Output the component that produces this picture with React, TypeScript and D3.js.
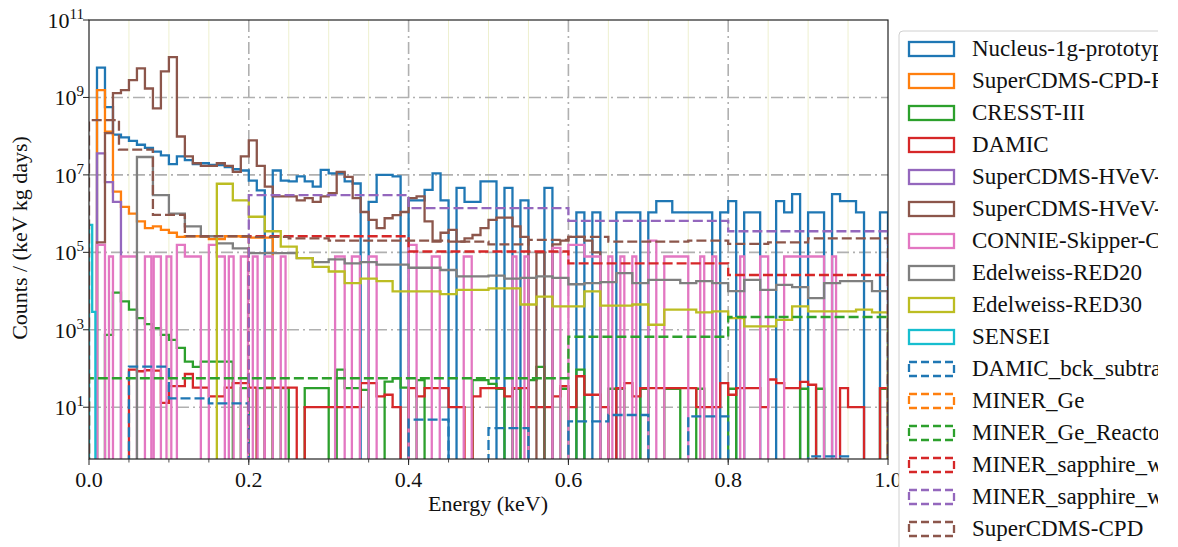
import React from 'react';
import * as d3 from 'd3';

// plot box in page pixels
const W = 1178;
const H = 547;
const PL = 89;
const PR = 888;
const PT = 20;
const PB = 459;

// ---- data: counts per bin, 0 = empty bin ----
// 0.01 keV bins starting at 0
const nucleusValues = [
  0, 5.9e9, 5.6e8, 1.1e8, 9.3e7, 7.6e7, 6.0e7, 5.0e7, 4.0e7, 3.2e7,
  1.9e7, 3.0e7, 2.4e7, 1.9e7, 2.0e7, 1.8e7, 1.8e7, 1.6e7, 1.4e7, 1.3e7,
  7.1e6, 4.0e6, 0, 1.3e7, 7.1e6, 6.8e6, 9.1e6, 6.8e6, 5.0e6, 1.35e7,
  1.1e7, 1.1e7, 6.8e6, 6.0e6, 0, 2.0e6, 1.0e7, 1.0e7, 9.1e6, 0,
  2.2e6, 2.2e6, 4.1e6, 1.1e7, 2.2e6, 0, 4.6e6, 2.0e6, 2.0e6, 6.8e6,
  6.8e6, 0, 4.6e6, 0, 2.2e6, 0, 0, 4.6e6, 0, 0,
  0, 1.07e6, 0, 1.07e6, 0, 0, 1.07e6, 1.07e6, 1.07e6, 0,
  1.07e6, 2.1e6, 2.1e6, 1.07e6, 1.07e6, 1.07e6, 1.07e6, 1.07e6, 0, 1.07e6,
  2.1e6, 0, 1.07e6, 1.07e6, 0, 0, 2.1e6, 1.07e6, 3.2e6, 0,
  1.07e6, 1.07e6, 0, 3.2e6, 2.1e6, 2.1e6, 1.07e6, 0, 0, 1.07e6,
];
const cpdRunValues = [
  0, 1.55e9, 1.3e8, 3.7e6, 1.5e6, 1.0e6, 6.3e5, 4.2e5, 4.7e5, 3.8e5,
  3.2e5, 2.5e5, 2.6e5, 2.6e5, 2.5e5, 2.2e5, 2.2e5, 2.6e5, 2.6e5, 2.5e5,
  2.4e5, 2.4e5, 2.4e5,
];
const cresstValues = [
  0, 0, 740, 9100, 5400, 3300, 2000, 1400, 1100, 740,
  550, 340, 150, 110, 150, 150, 150, 150, 0, 31,
  0, 31, 31, 0, 31, 0, 0, 31, 31, 31,
  0, 93, 31, 31, 28, 0, 0, 46, 56, 32,
  0, 50, 0, 0, 0, 0, 0, 0, 50, 50,
  40, 30, 0, 30, 0, 50, 110, 0, 0, 30,
  0, 93, 0, 0, 0, 30, 30, 0, 0, 30,
  0, 0, 30, 30, 0, 0, 30, 0, 0, 0,
  30, 0, 0, 0, 0, 0, 0, 0, 0, 30,
  0, 30, 0, 0, 0, 0, 0, 0, 0, 30,
];
const damicValues = [
  0, 0, 0, 0, 0, 93, 85, 90, 88, 13,
  35, 35, 72, 32, 32, 19, 19, 32, 42, 42,
  32, 0, 32, 32, 32, 32, 0, 10, 10, 10,
  10, 10, 10, 10, 42, 42, 19, 21, 10, 0,
  31, 19, 31, 31, 31, 10, 10, 0, 19, 31,
  31, 31, 19, 31, 31, 10, 10, 10, 19, 35,
  10, 63, 21, 21, 10, 0, 31, 42, 19, 31,
  31, 31, 31, 31, 31, 31, 10, 10, 10, 42,
  21, 31, 31, 31, 10, 52, 42, 31, 31, 45,
  38, 0, 0, 0, 31, 10, 10, 0, 0, 31,
];
const hvevPurpleValues = [0, 3.6e7, 6.5e6, 2.0e6];
const hvevBrownValues = [
  0, 1.8e5, 1.2e8, 1.3e9, 1.55e9, 2.8e9, 5.6e9, 1.7e9, 5.2e8, 4.7e9,
  1.1e10, 9.8e7, 3.0e7, 2.0e7, 1.7e7, 1.7e7, 2.0e7, 1.7e7, 1.2e7, 3.0e7,
  7.8e7, 1.7e7, 5.0e6, 2.8e6, 2.8e6, 2.8e6, 2.2e6, 2.5e6, 2.0e6, 2.8e6,
  3.4e6, 1.2e7, 8.9e6, 2.5e6, 1.1e6, 6.9e5, 4.2e5, 7.6e5, 9.1e5, 1.1e6,
  2.5e6, 2.8e6, 6.3e5, 1.9e5, 3.2e5, 3.8e5, 1.9e5, 2.3e5, 2.8e5, 4.2e5,
  6.9e5, 7.9e5, 7.9e5, 4.7e5, 2.5e5, 0, 1.0e5, 0, 1.6e5, 2.0e5,
  2.5e5, 2.5e5, 2.0e5, 1.0e5,
];
// CONNIE: isolated pulses [start keV, end keV, counts]
const connieStart = [0.010, 0.025, 0.040, 0.070, 0.081, 0.097, 0.110, 0.120, 0.150, 0.160, 0.175, 0.190, 0.205, 0.220, 0.240, 0.308, 0.329, 0.350, 0.400, 0.429, 0.469, 0.530, 0.545, 0.580, 0.600, 0.620, 0.650, 0.665, 0.680, 0.700, 0.720, 0.765, 0.780, 0.815, 0.840, 0.870, 0.910, 0.930];
const connieEnd = [0.020, 0.030, 0.060, 0.078, 0.090, 0.103, 0.120, 0.140, 0.160, 0.170, 0.181, 0.199, 0.211, 0.230, 0.246, 0.320, 0.339, 0.360, 0.410, 0.439, 0.479, 0.535, 0.550, 0.590, 0.620, 0.640, 0.655, 0.670, 0.685, 0.710, 0.750, 0.770, 0.785, 0.820, 0.850, 0.910, 0.920, 0.935];
const connieCounts = [1.55e5, 7.8e4, 7.8e4, 7.8e4, 7.8e4, 7.8e4, 1.55e5, 7.8e4, 1.55e5, 7.8e4, 7.8e4, 7.8e4, 7.8e4, 7.8e4, 7.8e4, 7.8e4, 7.8e4, 7.8e4, 1.55e5, 7.8e4, 7.8e4, 7.8e4, 7.8e4, 1.3e5, 1.55e5, 7.8e4, 7.8e4, 7.8e4, 7.8e4, 2.0e5, 7.8e4, 7.8e4, 7.8e4, 7.8e4, 7.8e4, 7.8e4, 7.8e4, 7.8e4];
// Edelweiss: 0.02 keV bins
const red20Values = [
  2.9e7, 3.0e6, 1.0e6, 4.7e5, 2.6e5, 1.7e5, 1.26e5, 9.5e4, 9.5e4, 9.5e4,
  7.1e4, 5.6e4, 6.6e4, 5.2e4, 5.6e4, 4.8e4, 4.8e4, 4.0e4, 4.0e4, 3.5e4,
  2.4e4, 2.4e4, 2.5e4, 2.1e4, 2.2e4, 2.4e4, 2.2e4, 1.5e4, 1.6e4, 1.7e4,
  2.9e4, 1.6e4, 1.95e4, 1.95e4, 1.6e4, 1.8e4, 1.6e4, 1.0e4, 1.95e4, 1.07e4,
  1.45e4, 1.26e4, 6.6e3, 1.6e4, 1.8e4, 1.8e4, 1.0e4,
];
const red30Values = [
  5.9e6, 2.2e6, 8.3e5, 3.5e5, 1.4e5, 7.1e4, 4.2e4, 3.2e4, 1.6e4, 2.1e4,
  1.8e4, 9.8e3, 9.8e3, 9.8e3, 8.3e3, 1.07e4, 1.07e4, 1.17e4, 1.17e4, 4.5e3,
  7.2e3, 4.0e3, 4.0e3, 9.8e3, 4.2e3, 4.2e3, 4.5e3, 1.35e3, 3.3e3, 3.3e3,
  2.8e3, 3.0e3, 2.0e3, 1.23e3, 1.23e3, 1.8e3, 4.0e3, 3.0e3, 3.0e3, 3.0e3,
  3.3e3, 2.8e3,
];
const senseiEdges = [0, 0.004, 0.008];
const senseiValues = [5.1e5, 2.9e3];
// dashed series
const damicBckValues = [0, 112, 17, 12.6, 0, 0, 0, 0, 4.8, 0, 2.9, 0, 4.3, 6.3, 0, 5.8, 0, 0, 0.54, 0];
const minerGeEdges = [1.0, 1.05];
const minerGeValues = [50];
const minerGeReactorEdges = [0, 0.6, 0.8, 1.0];
const minerGeReactorValues = [56, 660, 2140];
const sapphireEdges = [0.2, 0.4, 0.6, 0.8, 1.0];
const sapphireAValues = [2.6e5, 1.05e5, 5.2e4, 2.6e4];
const sapphireBValues = [3.0e6, 1.38e6, 6.5e5, 3.5e5];
const cpdEdges = [0, 0.0375, 0.08, 0.12, 0.15, 0.2, 0.25, 0.3, 0.35, 0.4, 0.45, 0.5, 0.55, 0.6, 0.65, 0.7, 0.75, 0.8, 0.85, 0.9, 0.95, 1.0];
const cpdValues = [2.6e8, 4.5e7, 9.3e5, 2.6e5, 2.6e5, 2.5e5, 2.3e5, 2.0e5, 2.0e5, 2.0e5, 1.9e5, 1.6e5, 2.1e5, 2.5e5, 1.9e5, 1.9e5, 2.0e5, 1.66e5, 1.8e5, 2.3e5, 2.3e5];

const xTicks = [0, 0.2, 0.4, 0.6, 0.8, 1.0];
const xMinor = d3.range(0.05, 1.0, 0.05);
const yTickExps = [1, 3, 5, 7, 9, 11];

// helpers
const binEdges = (start: number, width: number, n: number) =>
  d3.range(n + 1).map((i) => +(start + i * width).toFixed(4));

function pulsesToHist(starts: number[], ends: number[], counts: number[]) {
  const edges: number[] = [];
  const values: number[] = [];
  starts.forEach((s, i) => {
    if (edges.length && Math.abs(edges[edges.length - 1] - s) > 1e-6) {
      values.push(0);
      edges.push(s);
    } else if (!edges.length) edges.push(s);
    values.push(counts[i]);
    edges.push(ends[i]);
  });
  return { edges, values };
}

const connie = pulsesToHist(connieStart, connieEnd, connieCounts);

const tab = {
  blue: '#1f77b4', orange: '#ff7f0e', green: '#2ca02c', red: '#d62728', purple: '#9467bd',
  brown: '#8c564b', pink: '#e377c2', gray: '#7f7f7f', olive: '#bcbd22', cyan: '#17becf',
};

const series = [
  { name: 'Nucleus-1g-prototype', color: tab.blue, dashed: false, edges: binEdges(0, 0.01, nucleusValues.length), values: nucleusValues },
  { name: 'SuperCDMS-CPD-Run1', color: tab.orange, dashed: false, edges: binEdges(0, 0.01, cpdRunValues.length), values: cpdRunValues },
  { name: 'CRESST-III', color: tab.green, dashed: false, edges: binEdges(0, 0.01, cresstValues.length), values: cresstValues },
  { name: 'DAMIC', color: tab.red, dashed: false, edges: binEdges(0, 0.01, damicValues.length), values: damicValues },
  { name: 'SuperCDMS-HVeV-Run1', color: tab.purple, dashed: false, edges: binEdges(0, 0.01, hvevPurpleValues.length), values: hvevPurpleValues },
  { name: 'SuperCDMS-HVeV-Run2', color: tab.brown, dashed: false, edges: binEdges(0, 0.01, hvevBrownValues.length), values: hvevBrownValues },
  { name: 'CONNIE-Skipper-CCD', color: tab.pink, dashed: false, edges: connie.edges, values: connie.values },
  { name: 'Edelweiss-RED20', color: tab.gray, dashed: false, edges: binEdges(0.06, 0.02, red20Values.length), values: red20Values },
  { name: 'Edelweiss-RED30', color: tab.olive, dashed: false, edges: binEdges(0.16, 0.02, red30Values.length), values: red30Values },
  { name: 'SENSEI', color: tab.cyan, dashed: false, edges: senseiEdges, values: senseiValues },
  { name: 'DAMIC_bck_subtracted', color: tab.blue, dashed: true, edges: binEdges(0, 0.05, damicBckValues.length), values: damicBckValues },
  { name: 'MINER_Ge', color: tab.orange, dashed: true, edges: minerGeEdges, values: minerGeValues },
  { name: 'MINER_Ge_Reactor', color: tab.green, dashed: true, edges: minerGeReactorEdges, values: minerGeReactorValues },
  { name: 'MINER_sapphire_w_shield', color: tab.red, dashed: true, edges: sapphireEdges, values: sapphireAValues },
  { name: 'MINER_sapphire_w_Reactor', color: tab.purple, dashed: true, edges: sapphireEdges, values: sapphireBValues },
  { name: 'SuperCDMS-CPD', color: tab.brown, dashed: true, edges: cpdEdges, values: cpdValues },
];

const x = d3.scaleLinear().domain([0, 1]).range([PL, PR]);
const y = d3.scaleLog().domain([0.46, 1e11]).range([PB, PT]);
const FLOOR = 1e-2; // empty bins fall off the bottom

function stepPath(edges: number[], values: number[]) {
  const pts: [number, number][] = [[edges[0], FLOOR]];
  values.forEach((v, i) => {
    const vv = v > 0 ? v : FLOOR;
    pts.push([edges[i], vv]);
    pts.push([edges[i + 1], vv]);
  });
  pts.push([edges[edges.length - 1], FLOOR]);
  return d3.line<[number, number]>().x((d) => x(d[0])).y((d) => y(d[1]))(pts) || '';
}

const FONT = '"Liberation Serif", "DejaVu Serif", serif';
const DASH = '10,4';
const GRID_DASH = '12,4,2,4';

export default function App() {
  return (
    <svg width={W} height={H} style={{ position: 'absolute', left: 0, top: 0, background: '#fff' }} fontFamily={FONT}>
      <defs>
        <clipPath id="plotClip">
          <rect x={PL} y={PT} width={PR - PL} height={PB - PT} />
        </clipPath>
        <clipPath id="legClip">
          <rect x={880} y={0} width={1158 - 880} height={H} />
        </clipPath>
      </defs>
      <rect x={0} y={0} width={W} height={H} fill="#fff" />

      {/* minor vertical grid */}
      {xMinor.filter((v) => Math.abs(v * 5 - Math.round(v * 5)) > 1e-6).map((v) => (
        <line key={'mg' + v} x1={x(v)} x2={x(v)} y1={PT} y2={PB} stroke="#eef0cf" strokeWidth={1} />
      ))}
      {/* major grid */}
      {xTicks.slice(1, -1).map((v) => (
        <line key={'gx' + v} x1={x(v)} x2={x(v)} y1={PT} y2={PB} stroke="#b0b0b0" strokeWidth={1.6} strokeDasharray={GRID_DASH} />
      ))}
      {yTickExps.slice(0, -1).map((e) => (
        <line key={'gy' + e} x1={PL} x2={PR} y1={y(10 ** e)} y2={y(10 ** e)} stroke="#b0b0b0" strokeWidth={1.6} strokeDasharray={GRID_DASH} />
      ))}

      {/* histograms */}
      <g clipPath="url(#plotClip)" fill="none" strokeWidth={2.3} strokeLinejoin="miter">
        {series.map((s) => (
          <path key={s.name} d={stepPath(s.edges, s.values)} stroke={s.color} strokeDasharray={s.dashed ? DASH : undefined} />
        ))}
      </g>

      {/* frame */}
      <rect x={PL} y={PT} width={PR - PL} height={PB - PT} fill="none" stroke="#222" strokeWidth={1.2} />

      {/* x ticks */}
      {xTicks.map((v) => (
        <g key={'xt' + v}>
          <line x1={x(v)} x2={x(v)} y1={PB} y2={PB + 6} stroke="#222" strokeWidth={1} />
          <text x={x(v)} y={487} textAnchor="middle" fontSize={22} fill="#111">{v.toFixed(1)}</text>
        </g>
      ))}
      {xMinor.map((v) => (
        <line key={'xm' + v} x1={x(v)} x2={x(v)} y1={PB} y2={PB + 3.5} stroke="#222" strokeWidth={0.8} />
      ))}
      {/* y ticks */}
      {yTickExps.map((e) => (
        <g key={'yt' + e}>
          <line x1={PL - 6} x2={PL} y1={y(10 ** e)} y2={y(10 ** e)} stroke="#222" strokeWidth={1} />
          <text x={PL - 5} y={y(10 ** e) + 8} textAnchor="end" fontSize={22} fill="#111">
            10<tspan dy={-9} fontSize={15}>{e}</tspan>
          </text>
        </g>
      ))}

      <text x={488} y={511} textAnchor="middle" fontSize={22} fill="#111">Energy (keV)</text>
      <text transform="translate(27,238) rotate(-90)" textAnchor="middle" fontSize={22} fill="#111">Counts / (keV kg days)</text>

      {/* legend */}
      <g clipPath="url(#legClip)">
        <rect x={899} y={31} width={320} height={540} rx={4} fill="#fff" stroke="#d0d0d0" strokeWidth={1} />
        {series.map((s, i) => {
          const cy = 49 + i * 32;
          return (
            <g key={'lg' + s.name}>
              <rect x={909} y={cy - 7} width={45} height={14} fill="none" stroke={s.color} strokeWidth={2.3} strokeDasharray={s.dashed ? '8,4' : undefined} />
              <text x={972} y={cy + 7} fontSize={23} fill="#111">{s.name}</text>
            </g>
          );
        })}
      </g>
    </svg>
  );
}
